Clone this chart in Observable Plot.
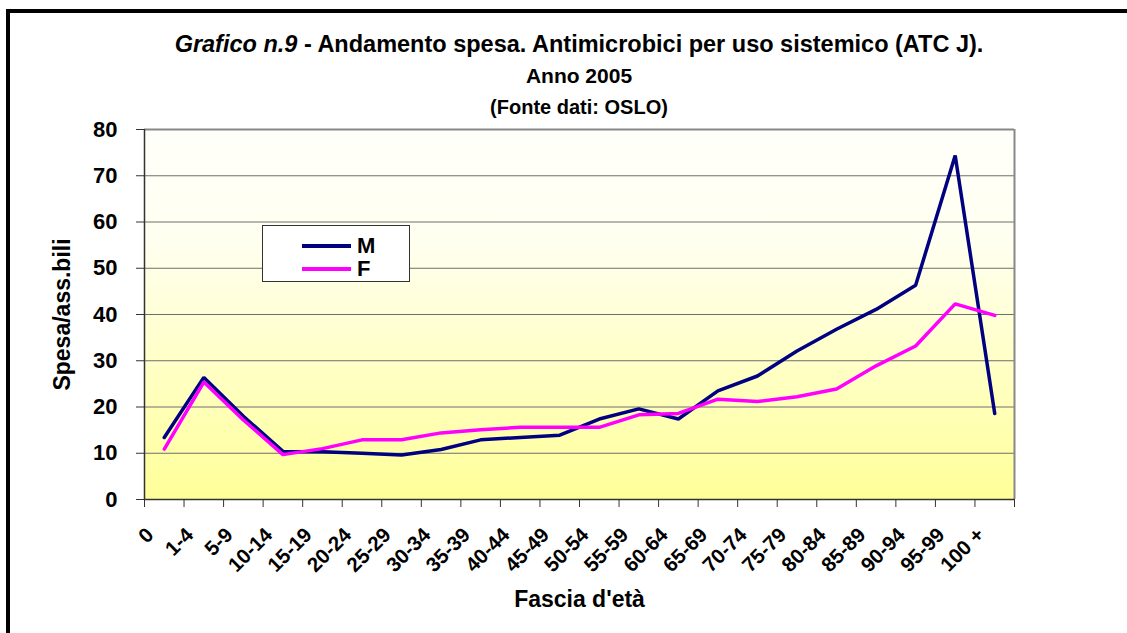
<!DOCTYPE html>
<html>
<head>
<meta charset="utf-8">
<script src="https://cdn.jsdelivr.net/npm/d3@7"></script>
<script src="https://cdn.jsdelivr.net/npm/@observablehq/plot@0.6"></script>
<style>
  html, body { margin: 0; padding: 0; background: #fff; }
  body { font-family: "Liberation Sans", Arial, sans-serif; }
  #wrap { position: relative; width: 1127px; height: 633px; overflow: hidden; background: #fff; }
  #frame { position: absolute; left: 6px; top: 9px; right: -10px; bottom: -10px; border-top: 4px solid #000; border-left: 4px solid #000; }
  .t { position: absolute; left: 144px; width: 870px; text-align: center; font-weight: bold; color: #000; white-space: nowrap; line-height: 1; }
  #chart { position: absolute; left: 0; top: 118px; }
  #legend { position: absolute; left: 262px; top: 225px; width: 148px; height: 57px; background: #fff; border: 1px solid #333; box-sizing: border-box; }
  .li { position: absolute; left: 39px; height: 24px; display: flex; align-items: center; font-weight: bold; font-size: 22px; }
  .li span.sw { display: inline-block; width: 49px; height: 4px; margin-right: 6px; }
</style>
</head>
<body>
<div id="wrap">
  <div id="frame"></div>
  <div class="t" style="top:33px;font-size:23.5px;"><i>Grafico n.9</i> - Andamento spesa. Antimicrobici per uso sistemico (ATC J).</div>
  <div class="t" style="top:65px;font-size:21px;">Anno 2005</div>
  <div class="t" style="top:97px;font-size:20px;">(Fonte dati: OSLO)</div>
  <div id="chart"></div>
  <div id="legend">
    <div class="li" style="top:8px;"><span class="sw" style="background:#000080"></span>M</div>
    <div class="li" style="top:31px;"><span class="sw" style="background:#ff00ff"></span>F</div>
  </div>
</div>
<script>
const categories = ["0","1-4","5-9","10-14","15-19","20-24","25-29","30-34","35-39","40-44","45-49","50-54","55-59","60-64","65-69","70-74","75-79","80-84","85-89","90-94","95-99","100 +"];
const seriesM = [13.4, 26.4, 18.0, 10.4, 10.3, 10.0, 9.6, 10.8, 12.9, 13.4, 13.9, 17.4, 19.6, 17.4, 23.5, 26.7, 32.1, 36.8, 41.1, 46.3, 74.4, 18.6];
const seriesF = [10.9, 25.4, 17.2, 9.7, 11.0, 12.9, 12.9, 14.4, 15.1, 15.6, 15.6, 15.6, 18.3, 18.6, 21.7, 21.2, 22.2, 23.9, 28.9, 33.2, 42.3, 39.8];
const yTicks = [0, 10, 20, 30, 40, 50, 60, 70, 80];
const seriesNames = ["M", "F"];
const seriesColors = ["#000080", "#ff00ff"];

const idx = categories.map((c, i) => i);
const boundaries = categories.map((c, i) => i - 0.5).concat([categories.length - 0.5]);
const rows = [];
[seriesM, seriesF].forEach((vals, s) => vals.forEach((v, i) => rows.push({i, v, s: seriesNames[s]})));

function background(index, scales, values, dims, ctx) {
  const ns = "http://www.w3.org/2000/svg";
  const g = ctx.document.createElementNS(ns, "g");
  const x = dims.marginLeft, y = dims.marginTop;
  const w = dims.width - dims.marginLeft - dims.marginRight;
  const h = dims.height - dims.marginTop - dims.marginBottom;
  g.innerHTML = `<defs><linearGradient id="bgGrad" x1="0" y1="0" x2="0" y2="1">
    <stop offset="0" stop-color="#fffffa"/><stop offset="0.3" stop-color="#fffff0"/><stop offset="1" stop-color="#ffff99"/></linearGradient></defs>
    <rect x="${x}" y="${y}" width="${w}" height="${h}" fill="url(#bgGrad)"/>`;
  return g;
}

const chart = Plot.plot({
  width: 1127,
  height: 515,
  marginLeft: 144,
  marginRight: 113,
  marginTop: 11,
  marginBottom: 134,
  style: {fontFamily: "'Liberation Sans', Arial, sans-serif", background: "transparent", overflow: "visible"},
  x: {type: "linear", domain: [-0.5, categories.length - 0.5]},
  y: {domain: [0, 80]},
  color: {domain: seriesNames, range: seriesColors},
  marks: [
    background,
    Plot.ruleY(yTicks.slice(1), {stroke: "#6e6e6e", strokeWidth: 1}),
    Plot.ruleX([categories.length - 0.5], {stroke: "#888", strokeWidth: 2}),
    Plot.ruleY([80], {stroke: "#888", strokeWidth: 2}),
    Plot.ruleY([0], {stroke: "#333", strokeWidth: 1.5}),
    Plot.ruleX([-0.5], {stroke: "#333", strokeWidth: 1.5}),
    Plot.axisY({ticks: yTicks, tickSize: 8, tickPadding: 19, fontSize: 22, fontWeight: "bold", label: null, stroke: "#333", color: "#000"}),
    Plot.axisX({ticks: boundaries, tickSize: 8, tickFormat: () => "", label: null, stroke: "#333"}),
    Plot.text(idx, {x: d => d, text: d => categories[d], frameAnchor: "bottom", rotate: -45, textAnchor: "end", lineAnchor: "middle", dx: -14, dy: 32, fontSize: 20.5, fontWeight: "bold", fill: "#000"}),
    Plot.text(["Spesa/ass.bili"], {frameAnchor: "left", rotate: -90, textAnchor: "middle", dx: -82, fontSize: 23, fontWeight: "bold", fill: "#000"}),
    Plot.text(["Fascia d'età"], {frameAnchor: "bottom", dy: 107, fontSize: 23, fontWeight: "bold", fill: "#000"}),
    Plot.line(rows, {x: "i", y: "v", z: "s", stroke: "s", strokeWidth: 3.5, strokeLinejoin: "miter", strokeLinecap: "round"})
  ]
});
document.getElementById("chart").appendChild(chart);
</script>
</body>
</html>
